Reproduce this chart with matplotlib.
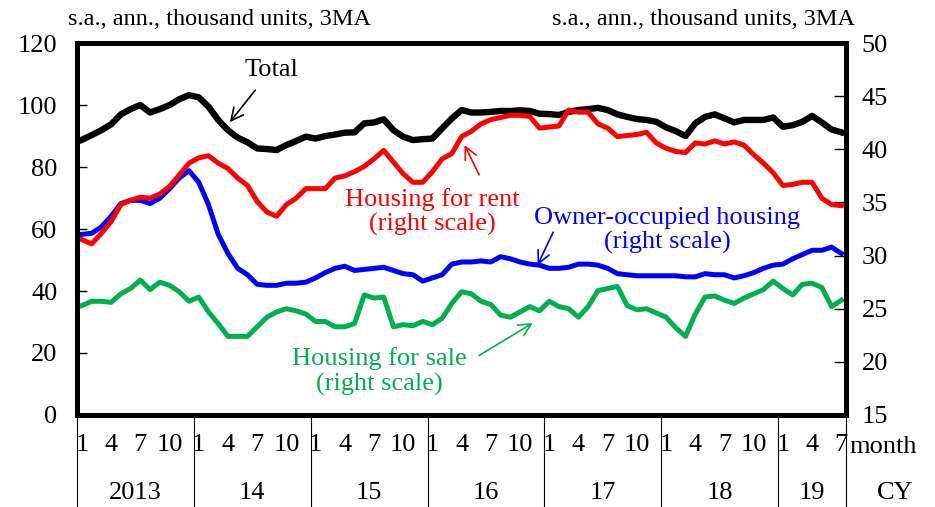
import numpy as np
import matplotlib.pyplot as plt
from matplotlib.transforms import blended_transform_factory

plt.rcParams['font.family'] = ['Liberation Serif', 'DejaVu Serif']

# ---- data: Jan 2013 .. Jul 2019, monthly, 3MA ----
total = [88.8, 90.3, 91.9, 93.8, 97.0, 98.7, 100.0, 97.6, 98.7, 100.0, 101.9, 103.2,
         102.5, 99.5, 95.2, 91.9, 89.5, 88.0, 86.0, 85.8, 85.5, 87.1, 88.4, 89.8,
         89.2, 90.0, 90.5, 91.1, 91.2, 94.1, 94.4, 95.4, 91.9, 89.8, 88.7, 89.0,
         89.2, 92.5, 95.7, 98.4, 97.6, 97.6, 97.8, 98.1, 98.1, 98.3, 98.1, 97.2,
         97.1, 96.8, 97.8, 98.4, 98.7, 99.1, 98.4, 97.0, 96.2, 95.5, 95.2, 94.6,
         92.8, 91.6, 90.0, 94.1, 96.2, 97.0, 95.7, 94.4, 95.2, 95.2, 95.2, 96.0,
         93.0, 93.5, 94.6, 96.5, 94.4, 92.1, 91.2]
rent = [31.5, 31.1, 32.1, 33.2, 34.8, 35.2, 35.5, 35.4, 35.8, 36.5, 37.6, 38.7,
        39.2, 39.4, 38.7, 38.2, 37.3, 36.6, 35.1, 34.1, 33.7, 34.8, 35.4, 36.3,
        36.3, 36.3, 37.3, 37.5, 37.9, 38.4, 39.1, 39.9, 38.8, 37.7, 36.9, 36.9,
        37.9, 39.1, 39.6, 41.2, 41.7, 42.4, 42.8, 43.0, 43.2, 43.2, 43.1, 42.0,
        42.1, 42.2, 43.7, 43.5, 43.5, 42.4, 42.0, 41.2, 41.3, 41.4, 41.6, 40.6,
        40.1, 39.8, 39.7, 40.6, 40.5, 40.8, 40.5, 40.7, 40.4, 39.5, 38.7, 37.8,
        36.6, 36.7, 36.9, 36.9, 35.4, 34.8, 34.7]
owner = [32.0, 32.1, 32.7, 33.7, 34.9, 35.2, 35.2, 34.9, 35.4, 36.3, 37.3, 38.0,
         36.9, 34.8, 32.0, 30.2, 28.8, 28.2, 27.3, 27.2, 27.2, 27.4, 27.4, 27.5,
         27.9, 28.4, 28.8, 29.0, 28.6, 28.7, 28.8, 28.9, 28.6, 28.3, 28.2, 27.6,
         27.9, 28.2, 29.2, 29.4, 29.4, 29.5, 29.4, 29.9, 29.7, 29.4, 29.2, 29.1,
         28.8, 28.8, 28.9, 29.2, 29.2, 29.1, 28.8, 28.3, 28.2, 28.1, 28.1, 28.1,
         28.1, 28.1, 28.0, 28.0, 28.3, 28.2, 28.2, 27.9, 28.1, 28.4, 28.8, 29.1,
         29.2, 29.7, 30.1, 30.5, 30.5, 30.8, 30.2]
sale = [25.3, 25.7, 25.7, 25.6, 26.4, 26.9, 27.7, 26.8, 27.5, 27.2, 26.6, 25.7,
        26.1, 24.7, 23.6, 22.4, 22.4, 22.4, 23.3, 24.2, 24.7, 25.0, 24.8, 24.5,
        23.8, 23.8, 23.3, 23.3, 23.6, 26.3, 26.0, 26.1, 23.3, 23.5, 23.4, 23.8,
        23.5, 24.1, 25.5, 26.6, 26.4, 25.7, 25.4, 24.4, 24.2, 24.7, 25.2, 24.8,
        25.7, 25.2, 25.0, 24.2, 25.2, 26.7, 26.9, 27.1, 25.3, 24.9, 25.0, 24.6,
        24.2, 23.2, 22.4, 24.5, 26.1, 26.2, 25.8, 25.5, 26.0, 26.4, 26.8, 27.6,
        26.9, 26.3, 27.3, 27.4, 27.0, 25.2, 25.8]

years = ['2013', '14', '15', '16', '17', '18', '19']
month_labels = ['1', '4', '7', '10']
left_ticks = [0, 20, 40, 60, 80, 100, 120]
right_ticks = [15, 20, 25, 30, 35, 40, 45, 50]

n = len(total)
x = np.arange(n)

fig = plt.figure(figsize=(9.35, 5.07), dpi=100)
ax = fig.add_axes([0.0824, 0.1815, 0.8226, 0.7335])
ax2 = ax.twinx()

ax.plot(x, total, color='black', lw=4.6)
ax2.plot(x, sale, color='#00B050', lw=3.6)
ax2.plot(x, owner, color='#0000FF', lw=3.6)
ax2.plot(x, rent, color='#FF0000', lw=3.6)

ax.set_xlim(-0.5, n - 0.5)
ax.set_ylim(0, 120)
ax2.set_ylim(15, 50)
ax.set_yticks(left_ticks)
ax2.set_yticks(right_ticks)

fs = 19
ax.tick_params(axis='y', direction='in', length=7, width=1, labelsize=fs, pad=14)
ax2.tick_params(axis='y', direction='in', length=9, width=1, labelsize=fs, pad=11)
for a in (ax, ax2):
    for s in a.spines.values():
        s.set_linewidth(3.5)

# month tick labels
pos, labs = [], []
for i in range(len(years)):
    for k, m in enumerate(month_labels):
        p = i * 12 + 3 * k
        if p < n:
            pos.append(p)
            labs.append(m)
ax.set_xticks(pos)
ax.set_xticklabels(labs, fontsize=fs)
ax.tick_params(axis='x', length=0, pad=14)

# year separators and year labels
tr = blended_transform_factory(ax.transData, ax.transAxes)
bounds = [i * 12 - 0.5 for i in range(len(years))] + [n - 0.5]
for b in bounds:
    ax.plot([b, b], [0, -0.26], color='black', lw=0.8, transform=tr, clip_on=False)
for i, y in enumerate(years):
    c = (bounds[i] + bounds[i + 1]) / 2
    ax.text(c, -0.209, y, transform=tr, ha='center', va='center', fontsize=fs)
ax.text(1.004, -0.086, 'month', transform=ax.transAxes, ha='left', va='center', fontsize=fs)
ax.text(1.064, -0.209, 'CY', transform=ax.transAxes, ha='center', va='center', fontsize=fs)

# unit labels
fig.text(0.073, 0.962, 's.a., ann., thousand units, 3MA', ha='left', va='center', fontsize=17.5)
fig.text(0.914, 0.962, 's.a., ann., thousand units, 3MA', ha='right', va='center', fontsize=17.5)

# series labels
ax.text(19.5, 111.3, 'Total', fontsize=fs, ha='center', va='center')
ax2.text(36.0, 34.1, 'Housing for rent\n(right scale)', fontsize=fs, ha='center',
         va='center', color='#FF0000', linespacing=1.15)
ax2.text(60.1, 32.36, 'Owner-occupied housing\n(right scale)', fontsize=fs, ha='center',
         va='center', color='#0000FF', linespacing=1.15)
ax2.text(30.6, 19.1, 'Housing for sale\n(right scale)', fontsize=fs, ha='center',
         va='center', color='#00B050', linespacing=1.15)

# arrows: (tail, head)
def arrow(a, tail, head, color):
    a.annotate('', xy=head, xytext=tail,
               arrowprops=dict(arrowstyle='->', color=color, lw=1.2, shrinkA=0, shrinkB=0,
                               mutation_scale=22))

arrow(ax, (17.8, 104.8), (15.2, 94.5), 'black')
arrow(ax2, (40.8, 37.6), (39.3, 40.4), '#FF0000')
arrow(ax2, (48.4, 32.2), (46.8, 29.1), '#0000FF')
arrow(ax2, (40.8, 20.6), (46.3, 23.65), '#00B050')

fig.savefig('out.png', dpi=100)
